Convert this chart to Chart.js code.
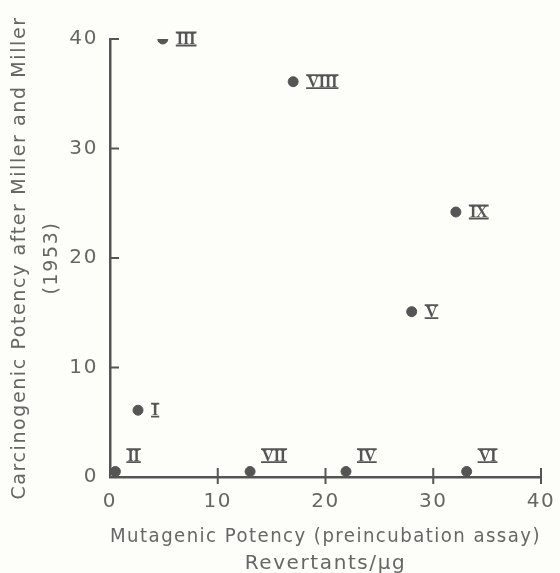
<!DOCTYPE html>
<html>
<head>
<meta charset="utf-8">
<script src="https://cdn.jsdelivr.net/npm/chart.js@4.4.1/dist/chart.umd.min.js"></script>
<style>
  html, body { margin: 0; padding: 0; background: #fdfdf9; }
  canvas { display: block; }
</style>
</head>
<body>
<canvas id="scatterCanvas" width="560" height="573"></canvas>
<script>
// compounds, mutagenic potency (x) and carcinogenic potency (y)
const compoundLabels = ["I", "II", "III", "IV", "V", "VI", "VII", "VIII", "IX"];
const mutagenicValues = [2.6, 0.5, 4.9, 21.9, 28, 33.1, 13, 17, 32.1];
const carcinogenicValues = [6.1, 0.5, 40, 0.5, 15.1, 0.5, 0.5, 36.1, 24.2];
const xTicks = [0, 10, 20, 30, 40];
const yTicks = [0, 10, 20, 30, 40];

const INK = "#555";
const TEXT = "#666";

const points = mutagenicValues.map((x, i) => ({ x: x, y: carcinogenicValues[i] }));

// the scanned font is wide, so open up the letters a bit
const spacingPlugin = {
  id: "spacing",
  beforeUpdate(chart) {
    chart.ctx.letterSpacing = "1.6px";
  },
  beforeDraw(chart) {
    chart.ctx.letterSpacing = "1.6px";
  },
};

// tick marks: x ticks cross the axis, y ticks point inward
const tickMarksPlugin = {
  id: "tickMarks",
  afterDraw(chart) {
    const ctx = chart.ctx;
    const xs = chart.scales.x;
    const ys = chart.scales.y;
    const area = chart.chartArea;
    ctx.save();
    ctx.strokeStyle = INK;
    ctx.lineWidth = 2;
    xTicks.forEach((v) => {
      if (v === 0) return;
      const px = xs.getPixelForValue(v);
      ctx.beginPath();
      ctx.moveTo(px, area.bottom - 9);
      ctx.lineTo(px, area.bottom + 7);
      ctx.stroke();
    });
    yTicks.forEach((v) => {
      if (v === 0) return;
      const py = ys.getPixelForValue(v);
      ctx.beginPath();
      ctx.moveTo(area.left, py);
      ctx.lineTo(area.left + 9, py);
      ctx.stroke();
    });
    ctx.restore();
  },
};

// roman numeral labels next to each point, with bars above and below
const numeralPlugin = {
  id: "numerals",
  afterDatasetsDraw(chart) {
    const ctx = chart.ctx;
    const meta = chart.getDatasetMeta(0);
    ctx.save();
    ctx.letterSpacing = "0px";
    ctx.font = "bold 16px 'Liberation Serif', 'DejaVu Serif', serif";
    ctx.fillStyle = INK;
    ctx.strokeStyle = INK;
    ctx.lineWidth = 1.8;
    ctx.textBaseline = "middle";
    meta.data.forEach((el, i) => {
      const text = compoundLabels[i];
      let lx = el.x + 14;
      let ly = el.y;
      if (carcinogenicValues[i] < 2) {
        lx = el.x + 12;
        ly = el.y - 16;
      }
      ctx.fillText(text, lx, ly + 1);
      const w = ctx.measureText(text).width;
      ctx.beginPath();
      ctx.moveTo(lx - 1, ly - 6.5);
      ctx.lineTo(lx + w + 1, ly - 6.5);
      ctx.moveTo(lx - 1, ly + 6.5);
      ctx.lineTo(lx + w + 1, ly + 6.5);
      ctx.stroke();
    });
    ctx.restore();
  },
};

new Chart(document.getElementById("scatterCanvas").getContext("2d"), {
  type: "scatter",
  data: {
    datasets: [
      {
        data: points,
        backgroundColor: INK,
        borderColor: INK,
        pointRadius: 5,
        pointHoverRadius: 5,
      },
    ],
  },
  options: {
    responsive: false,
    animation: false,
    layout: { padding: { top: 39, right: 19, left: 0, bottom: 0 } },
    plugins: {
      legend: { display: false },
      tooltip: { enabled: false },
    },
    scales: {
      x: {
        type: "linear",
        min: 0,
        max: 40,
        afterBuildTicks: (axis) => {
          axis.ticks = xTicks.map((v) => ({ value: v }));
        },
        afterFit: (axis) => {
          axis.height = 96;
          axis.paddingRight = 0;
          axis.paddingLeft = 0;
        },
        grid: { display: false, drawTicks: false },
        border: { display: true, color: INK, width: 2.5 },
        ticks: {
          color: TEXT,
          padding: 13,
          font: { family: "'DejaVu Sans', sans-serif", size: 20 },
        },
        title: {
          display: true,
          text: ["Mutagenic Potency (preincubation assay)", "Revertants/\u00b5g"],
          color: TEXT,
          padding: { top: 0, bottom: -4 },
          font: { family: "'DejaVu Sans', sans-serif", size: 20, lineHeight: 1.35 },
        },
      },
      y: {
        type: "linear",
        min: 0,
        max: 40,
        afterBuildTicks: (axis) => {
          axis.ticks = yTicks.map((v) => ({ value: v }));
        },
        afterFit: (axis) => {
          axis.width = 110;
        },
        grid: { display: false, drawTicks: false },
        border: { display: true, color: INK, width: 2.5 },
        ticks: {
          color: TEXT,
          padding: 12,
          font: { family: "'DejaVu Sans', sans-serif", size: 20 },
        },
        title: {
          display: true,
          text: ["Carcinogenic Potency after Miller and Miller", "(1953)"],
          color: TEXT,
          padding: { top: 4, bottom: 0 },
          font: { family: "'DejaVu Sans', sans-serif", size: 19, lineHeight: 1.7 },
        },
      },
    },
  },
  plugins: [spacingPlugin, tickMarksPlugin, numeralPlugin],
});
</script>
</body>
</html>
